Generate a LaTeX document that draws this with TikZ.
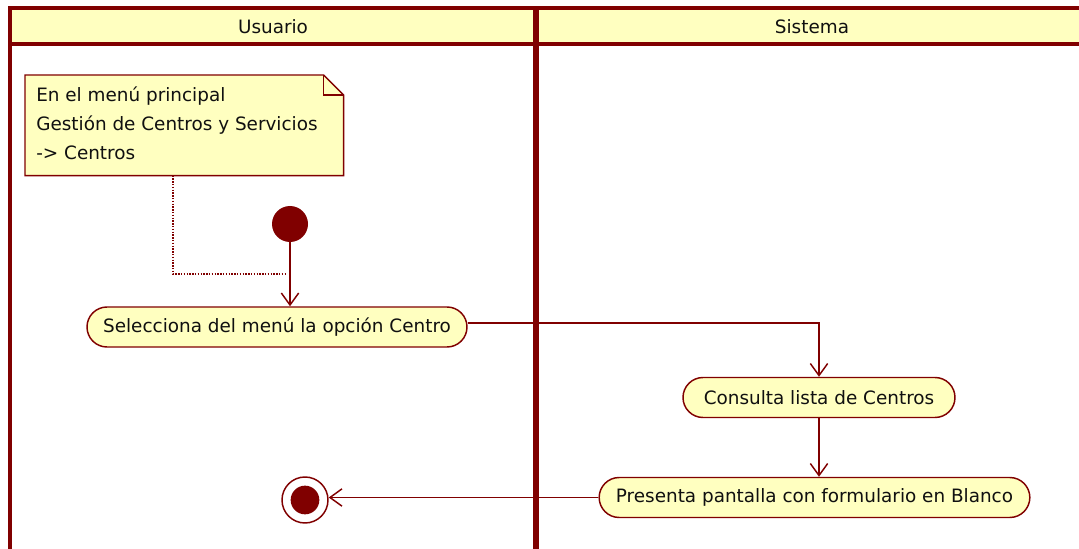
\documentclass[tikz,border=0pt]{standalone}
\usepackage{fontspec}
\setmainfont{DejaVu Sans}
\usetikzlibrary{arrows.meta,calc}
\definecolor{umlred}{HTML}{800000}
\definecolor{umlfill}{HTML}{FFFFC0}
\definecolor{umltext}{HTML}{101010}
\tikzset{
  frameline/.style={draw=umlred,line width=3pt},
  actbox/.style={draw=umlred,fill=umlfill,line width=1.1pt,rounded corners=15pt,
    minimum height=30pt,inner sep=0pt,text=umltext,font=\fontsize{13.8pt}{16pt}\selectfont},
  flow/.style={draw=umlred,line width=1.1pt,-{Straight Barb[length=9pt,width=13pt,line width=1.1pt]}},
  lanelabel/.style={text=umltext,font=\fontsize{13.8pt}{16pt}\selectfont},
}
\begin{document}
\begin{tikzpicture}[x=0.75pt,y=-0.75pt]
\useasboundingbox (0,0) rectangle (1079,549);
\begin{scope}
\clip (0,0) rectangle (1079,549);
\fill[umlfill] (10,8) rectangle (1100,44);
\draw[frameline] (10,560) -- (10,8) -- (1100,8);
\draw[frameline] (10,44) -- (1100,44);
\draw[umlred,line width=3.8pt] (536,8) -- (536,560);
\end{scope}
\node[lanelabel] (usuario) at (273,27) {Usuario};
\node[lanelabel] (sistema) at (812,27) {Sistema};
% note
\node[anchor=north west,minimum width=238.5pt,minimum height=75pt,inner sep=0pt] (note) at (25,75) {};
\draw[umlred,fill=umlfill,line width=1.1pt]
  (note.north west) -- ($(note.north east)+(-20,0)$) -- ($(note.north east)+(0,20)$)
  -- (note.south east) -- (note.south west) -- cycle;
\draw[umlred,line width=1.1pt] ($(note.north east)+(-20,0)$) -- ($(note.north east)+(-20,20)$) -- ($(note.north east)+(0,20)$);
\node[anchor=north west,align=left,inner sep=0pt,text=umltext,
  font=\fontsize{13.8pt}{21.4pt}\selectfont] (notetext) at (36,87)
  {En el menú principal\\Gestión de Centros y Servicios\\-> Centros};
% start
\node[circle,fill=umlred,minimum size=27pt,inner sep=0pt] (start) at (290,224) {};
% activities
\node[actbox,minimum width=285pt] (act1) at (277,327) {Selecciona del menú la opción Centro};
\node[actbox,minimum width=204pt] (act2) at (819,397.5) {Consulta lista de Centros};
\node[actbox,minimum width=323pt] (act3) at (814.5,497.5) {Presenta pantalla con formulario en Blanco};
% end
\node[circle,draw=umlred,line width=1.1pt,fill=white,minimum size=34.5pt,inner sep=0pt] (end) at (305,500) {};
\node[circle,fill=umlred,minimum size=21.5pt,inner sep=0pt] (endin) at (end) {};
% connectors
\coordinate (notefoot) at ($(note.south west)+(148,0)$);
\draw[umlred,line width=1.1pt,densely dotted] (notefoot) |- ($(start)+(-4,50)$);
\draw[flow] (start.south) -- (act1.north -| start);
\draw[flow] ($(act1.east)+(0,-4)$) -| (act2.north);
\draw[flow] (act2.south) -- (act3.north -| act2.south);
\draw[flow] (act3.west) -- (act3.west -| end.east);
\end{tikzpicture}
\end{document}
